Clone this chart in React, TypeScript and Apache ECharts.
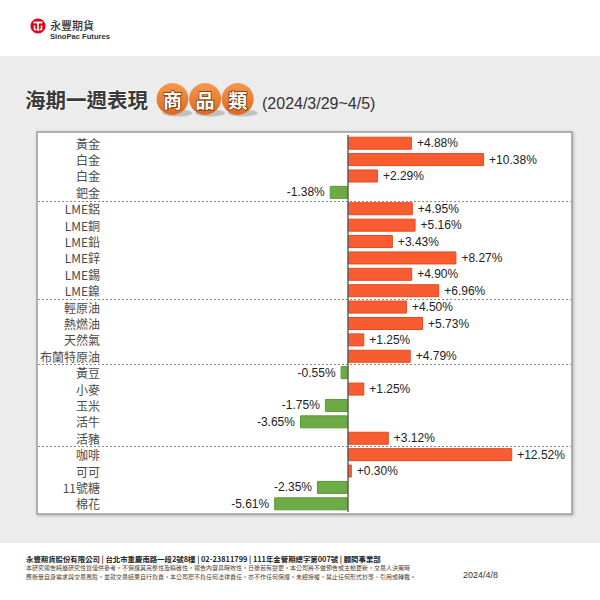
import React, { useEffect, useRef } from "react";
import * as echarts from "echarts";

const categories = [
  "黃金", "白金", "白金", "鈀金",
  "LME鋁", "LME銅", "LME鉛", "LME鋅", "LME錫", "LME鎳",
  "輕原油", "熱燃油", "天然氣", "布蘭特原油",
  "黃豆", "小麥", "玉米", "活牛", "活豬",
  "咖啡", "可可", "11號糖", "棉花",
];
const values = [
  4.88, 10.38, 2.29, -1.38,
  4.95, 5.16, 3.43, 8.27, 4.90, 6.96,
  4.50, 5.73, 1.25, 4.79,
  -0.55, 1.25, -1.75, -3.65, 3.12,
  12.52, 0.30, -2.35, -5.61,
];
// index of the last item in each group (a dashed separator follows it)
const groupEnds = [3, 9, 13, 18];

const titleMain = "海期一週表現";
const titleBadges = ["商", "品", "類"];
const titleDate = "(2024/3/29~4/5)";
const footerLine1 = "永豐期貨股份有限公司 | 台北市重慶南路一段2號8樓 | 02-23811799 | 111年金管期總字第007號 | 顧問事業部";
const footerLine2 = "本研究報告純屬研究性質僅供參考，不保證其完整性及精確性，報告內容具時效性，日後若有變更，本公司將不做預告或主動更新，交易人決策時";
const footerLine3 = "應衡量自身需求與交易風險，並就交易結果自行負責，本公司恕不負任何法律責任，亦不作任何保證。未經授權，禁止任何形式抄襲、引用或轉載。";
const footerDate = "2024/4/8";

const CJK = '"Noto Sans CJK TC", "Noto Sans", sans-serif';
const LAT = '"Liberation Sans", Arial, sans-serif';

const UP_FILL = "#F85D31";
const UP_BORDER = "#E9461B";
const DN_FILL = "#6CAB45";
const DN_BORDER = "#5A9636";

const PANEL = { x: 37, y: 132, w: 535, h: 382 };

function buildOption(sepYs: number[]) {
  const graphics: any[] = [
    { type: "rect", id: "grayband", z: -10, shape: { x: 0, y: 56, width: 600, height: 487 }, style: { fill: "#ECECEC" }, silent: true },
    {
      type: "rect", id: "panel", z: -5,
      shape: { x: PANEL.x, y: PANEL.y, width: PANEL.w, height: PANEL.h },
      style: { fill: "#ffffff", stroke: "#9C9C9C", lineWidth: 1.5, shadowBlur: 3, shadowColor: "rgba(0,0,0,0.25)", shadowOffsetX: 1, shadowOffsetY: 1 },
      silent: true,
    },
    // logo
    { type: "circle", id: "logoC", shape: { cx: 38, cy: 26, r: 7.5 }, style: { fill: "#E50012" } },
    { type: "polyline", id: "logo1", shape: { points: [[33.5, 22.5], [42.5, 22.5]] }, style: { stroke: "#fff", lineWidth: 1.8, fill: null } },
    { type: "polyline", id: "logo2", shape: { points: [[38, 22.5], [38, 31]] }, style: { stroke: "#fff", lineWidth: 1.8, fill: null } },
    { type: "polyline", id: "logo3", shape: { points: [[34.5, 25.5], [34.5, 29.5], [36.5, 29.5]] }, style: { stroke: "#fff", lineWidth: 1.5, fill: null } },
    { type: "polyline", id: "logo4", shape: { points: [[41.5, 25.5], [41.5, 29.5], [39.5, 29.5]] }, style: { stroke: "#fff", lineWidth: 1.5, fill: null } },
    { type: "text", id: "logoT1", x: 50, y: 24.5, style: { text: "永豐期貨", font: `500 11px ${CJK}`, fill: "#333", textVerticalAlign: "middle", lineHeight: 11 } },
    { type: "text", id: "logoT2", x: 50, y: 36.5, style: { text: "SinoPac Futures", font: `bold 7.6px ${LAT}`, fill: "#333", textVerticalAlign: "middle", lineHeight: 8 } },
    // title
    { type: "text", id: "title", x: 25, y: 99, style: { text: titleMain, font: `bold 20.5px ${CJK}`, fill: "#3A3A3A", textVerticalAlign: "middle", stroke: "#ffffff", lineWidth: 1 } },
    { type: "text", id: "titleDate", x: 262, y: 103, style: { text: titleDate, font: `16px ${LAT}`, fill: "#333", textVerticalAlign: "middle" } },
    // footer
    { type: "text", id: "f1", x: 26, y: 558, style: { text: footerLine1, font: `bold 7.4px ${CJK}`, fill: "#222", textVerticalAlign: "middle", lineHeight: 8 } },
    { type: "text", id: "f2", x: 26, y: 567.8, style: { text: footerLine2, font: `6px ${CJK}`, fill: "#444", textVerticalAlign: "middle", lineHeight: 6 } },
    { type: "text", id: "f3", x: 26, y: 576.6, style: { text: footerLine3, font: `6px ${CJK}`, fill: "#444", textVerticalAlign: "middle", lineHeight: 6 } },
    { type: "text", id: "fd", x: 498, y: 575, style: { text: footerDate, font: `9px ${LAT}`, fill: "#333", textAlign: "right", textVerticalAlign: "middle" } },
  ];
  titleBadges.forEach((ch, i) => {
    const cx = 172.5 + i * 32.6;
    const cy = 99;
    graphics.push({ type: "ellipse", id: `bs${i}`, shape: { cx: cx + 5, cy: cy + 14, rx: 15, ry: 3.5 }, style: { fill: "rgba(0,0,0,0.18)" } });
    graphics.push({
      type: "circle", id: `bc${i}`, shape: { cx, cy, r: 16 },
      style: {
        fill: { type: "linear", x: 0, y: 0, x2: 0, y2: 1, colorStops: [{ offset: 0, color: "#F59A4E" }, { offset: 1, color: "#E0661C" }] },
      },
    });
    graphics.push({ type: "text", id: `bt${i}`, x: cx, y: cy, style: { text: ch, font: `bold 19px ${CJK}`, fill: "#ffffff", stroke: "#7A3A10", lineWidth: 1.6, textAlign: "center", textVerticalAlign: "middle" } });
  });
  sepYs.forEach((y, i) => {
    graphics.push({ type: "line", id: `sep${i}`, z: -1, shape: { x1: PANEL.x + 1, y1: y, x2: PANEL.x + PANEL.w - 1, y2: y }, style: { stroke: "#8A8A8A", lineWidth: 1, lineDash: [2, 2] } });
  });

  return {
    animation: false,
    backgroundColor: "#ffffff",
    grid: { left: 105, right: 29, top: 135, height: 377, containLabel: false },
    xAxis: {
      type: "value", min: -18.5, max: 17,
      axisLine: { show: false }, axisTick: { show: false }, axisLabel: { show: false }, splitLine: { show: false },
    },
    yAxis: {
      type: "category", inverse: true, data: categories,
      axisLine: { show: false }, axisTick: { show: false }, splitLine: { show: false },
      axisLabel: { margin: 5, fontSize: 12, color: "#4A4A4A", fontFamily: CJK },
    },
    graphic: { elements: graphics },
    series: [
      {
        type: "bar",
        barWidth: 13,
        data: values.map((v) => ({
          value: v,
          itemStyle: v >= 0 ? { color: UP_FILL, borderColor: UP_BORDER, borderWidth: 1 } : { color: DN_FILL, borderColor: DN_BORDER, borderWidth: 1 },
          label: { position: v >= 0 ? "right" : "left" },
        })),
        label: {
          show: true, distance: 5, fontSize: 12, color: "#222", fontFamily: LAT,
          formatter: (p: any) => (p.value > 0 ? "+" : "") + Number(p.value).toFixed(2) + "%",
        },
        markLine: {
          silent: true, symbol: "none", label: { show: false },
          lineStyle: { color: "#6B5B55", width: 1.5, type: "solid" },
          data: [{ xAxis: 0 }],
        },
      },
    ],
  };
}

export default function App() {
  const ref = useRef<HTMLDivElement>(null);
  useEffect(() => {
    document.body.style.margin = "0";
    const chart = echarts.init(ref.current!, null, { renderer: "svg", width: 600, height: 600 });
    chart.setOption(buildOption([]));
    const ys = groupEnds.map((i) => {
      const a = chart.convertToPixel({ yAxisIndex: 0 }, i) as unknown as number;
      const b = chart.convertToPixel({ yAxisIndex: 0 }, i + 1) as unknown as number;
      return Math.round((a + b) / 2) + 0.5;
    });
    chart.setOption(buildOption(ys), true);
    return () => chart.dispose();
  }, []);
  return <div ref={ref} style={{ width: 600, height: 600, position: "absolute", left: 0, top: 0 }} />;
}
